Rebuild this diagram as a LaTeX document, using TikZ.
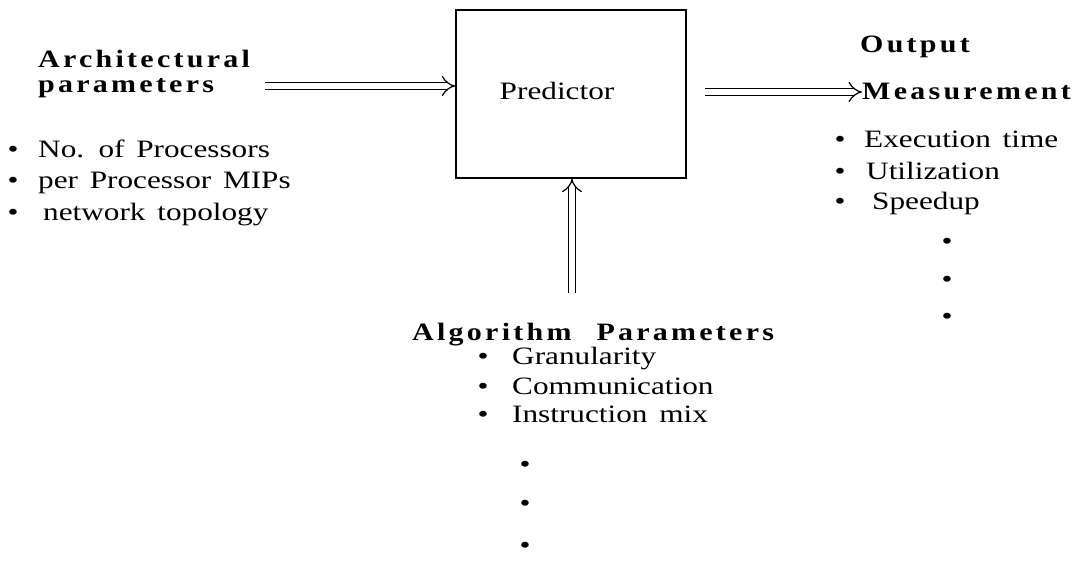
\documentclass[tikz,border=0pt]{standalone}
\usepackage{fontspec}
\setmainfont{Liberation Serif}[FakeStretch=1.25,WordSpace=1.5]
\newfontfamily\headfont{Liberation Serif}[FakeStretch=1.2,LetterSpace=13,WordSpace=2]
\usetikzlibrary{arrows.meta,positioning}

\begin{document}
\begin{tikzpicture}[x=1pt,y=-1pt,
    every node/.style={inner sep=0pt,font=\fontsize{25}{30}\selectfont},
    head/.style={anchor=base west,font=\headfont\bfseries\fontsize{25}{30}\selectfont},
    item/.style={anchor=base west},
    dot/.style={anchor=base},
    flow/.style={double,double distance=6pt,line width=1.2pt,-Implies}]
  \useasboundingbox (0,0) rectangle (1082,567);

  % predictor block
  \node[draw,line width=1.5pt,minimum width=230pt,minimum height=168pt] (pred) at (571,94) {};
  \node[anchor=base] (predlbl) at (557,100) {Predictor};

  % architectural parameters
  \node[head] (arch1) at (38,68) {Architectural};
  \node[head] (arch2) at (38,93) {parameters};
  \foreach \x/\y/\txt [count=\i] in {38/158/No. of Processors,38/189/per Processor MIPs,43/220/network topology} {
    \node[dot] (ab\i) at (13,\y) {\textbullet};
    \node[item] (ai\i) at (\x,\y) {\txt};
  }

  % output measurement
  \node[head] (out1) at (860,53) {Output};
  \node[head] (out2) at (862,100) {Measurement};
  \foreach \x/\y/\txt [count=\i] in {864/148/Execution time,866/179/Utilization,872/209/Speedup} {
    \node[dot] (ob\i) at (840,\y) {\textbullet};
    \node[item] (oi\i) at (\x,\y) {\txt};
  }
  \foreach \y [count=\i] in {249,287,324}
    \node[dot] (od\i) at (947,\y) {\textbullet};

  % algorithm parameters
  \node[head] (alg) at (412,340) {Algorithm\hspace{1em}Parameters};
  \foreach \y/\txt [count=\i] in {364/Granularity,394/Communication,422/Instruction mix} {
    \node[dot] (gb\i) at (483,\y) {\textbullet};
    \node[item] (gi\i) at (512,\y) {\txt};
  }
  \foreach \y [count=\i] in {472,511,553}
    \node[dot] (gd\i) at (525,\y) {\textbullet};

  % flows
  \coordinate (archtail) at (265,86);
  \coordinate (predtail) at (705,92);
  \coordinate (algtail) at (572,293);
  \draw[flow] (archtail) -- (archtail -| pred.west);
  \draw[flow] (predtail) -- (out2.west |- predtail);
  \draw[flow] (algtail) -- (algtail |- pred.south);
\end{tikzpicture}
\end{document}
